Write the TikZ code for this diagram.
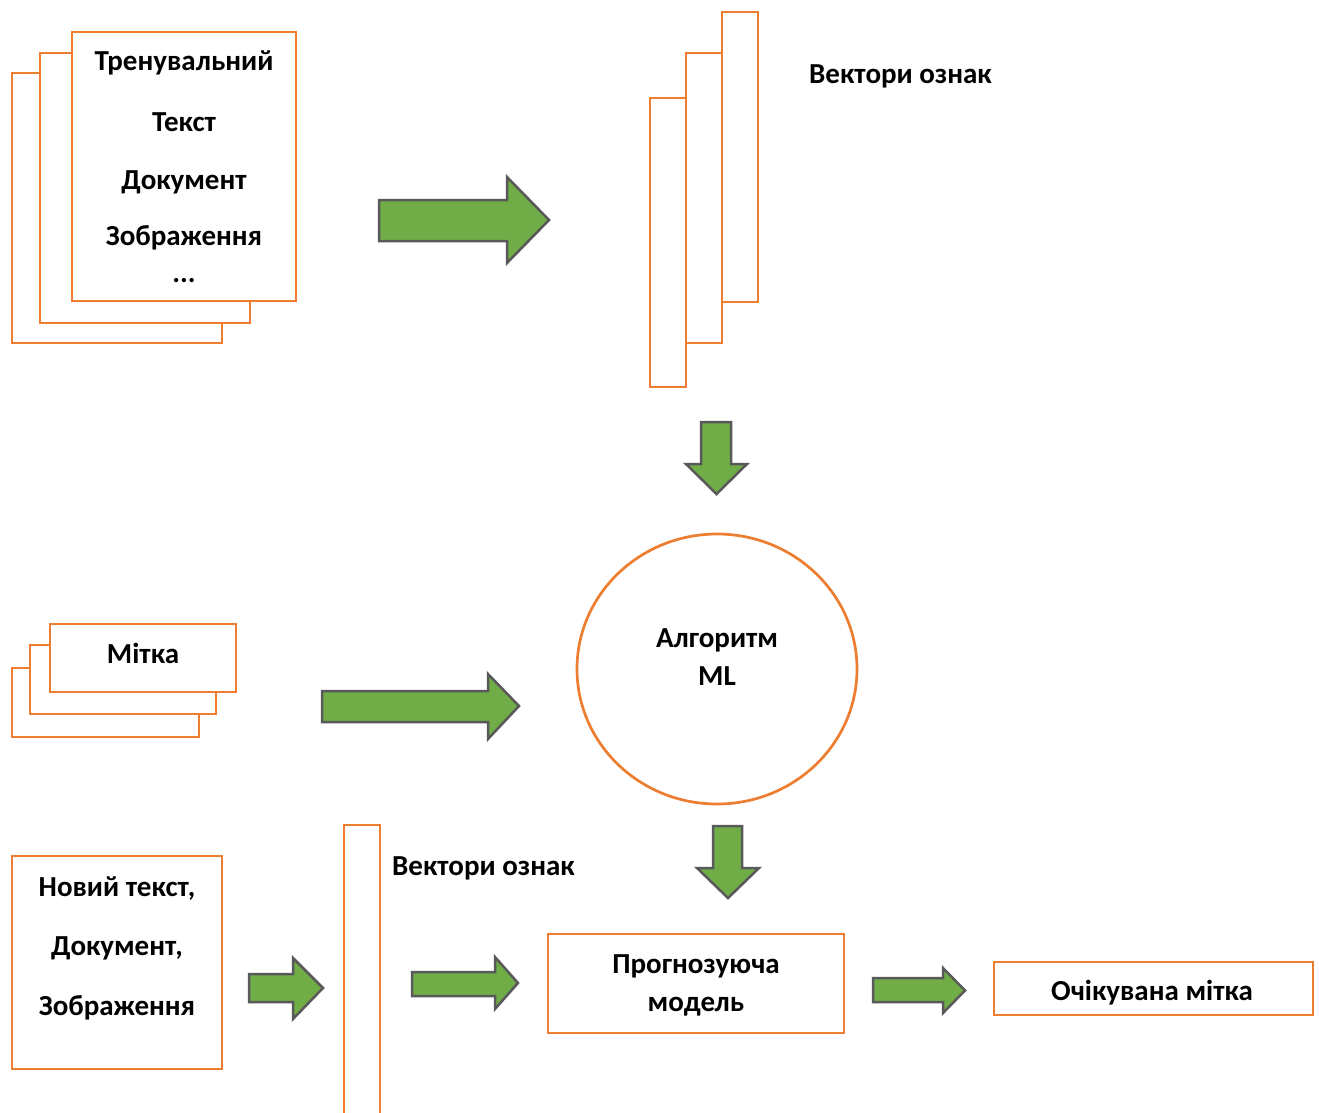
\documentclass[tikz,border=0pt]{standalone}
\usepackage{fontspec}
\setmainfont{Carlito}
\usetikzlibrary{shapes.geometric}
\definecolor{boxorange}{HTML}{ED7D31}
\definecolor{arrowgreen}{HTML}{70AD47}
\definecolor{arrowedge}{HTML}{595959}
\begin{document}
\begin{tikzpicture}[x=1pt,y=-1pt,
  every node/.style={font=\fontsize{29}{35}\selectfont\bfseries, inner sep=0pt},
  pagebox/.style={draw=boxorange, line width=2.7pt, fill=white, rectangle, inner sep=0pt},
  algo/.style={draw=boxorange, line width=2.7pt, fill=white, ellipse, inner sep=0pt},
  label/.style={anchor=base, text=black},
  sidelabel/.style={anchor=base west, text=black},
  blockarrow/.style={draw=arrowedge, fill=arrowgreen, line width=2.5pt, line join=miter}]
\useasboundingbox (0,0) rectangle (1319,1112);

% stack of training documents
\node[pagebox, minimum width=210, minimum height=270] (docC) at (117,208) {};
\node[pagebox, minimum width=210, minimum height=270] (docB) at (145,188) {};
\node[pagebox, minimum width=224, minimum height=269] (docA) at (184,166.5) {};
\node[label] (t1) at (184,70) {Тренувальний};
\node[label] (t2) at (184,131.5) {Текст};
\node[label] (t3) at (184,189.5) {Документ};
\node[label] (t4) at (184,245.5) {Зображення};
\node[label] (t5) at (184,282) {...};

% feature vectors of the training set
\node[pagebox, minimum width=36, minimum height=289] (vecA) at (668,242.5) {};
\node[pagebox, minimum width=36, minimum height=290] (vecB) at (704,198) {};
\node[pagebox, minimum width=36, minimum height=290] (vecC) at (740,157) {};
\node[sidelabel] (vlabel) at (809,83) {Вектори ознак};

% learning algorithm
\node[algo, minimum width=280, minimum height=270] (alg) at (717,669) {};
\node[label] (alg1) at (717,647) {Алгоритм};
\node[label] (alg2) at (717,685.5) {ML};

% stack of labels
\node[pagebox, minimum width=187, minimum height=69] (labC) at (105.5,702.5) {};
\node[pagebox, minimum width=186, minimum height=69] (labB) at (123,679.5) {};
\node[pagebox, minimum width=186, minimum height=68] (labA) at (143,658) {};
\node[label] (lab) at (143,663.5) {Мітка};

% new input
\node[pagebox, minimum width=210, minimum height=213] (newdoc) at (117,962.5) {};
\node[label] (n1) at (117,896) {Новий текст,};
\node[label] (n2) at (117,955) {Документ,};
\node[label] (n3) at (117,1015) {Зображення};

% feature vector of the new input
\node[pagebox, minimum width=36, minimum height=291] (vecN) at (362,970.5) {};
\node[sidelabel] (vlabel2) at (392,875) {Вектори ознак};

% predictive model and output
\node[pagebox, minimum width=296, minimum height=99] (model) at (696,983.5) {};
\node[label] (m1) at (696,973.5) {Прогнозуюча};
\node[label] (m2) at (696,1011) {модель};
\node[pagebox, minimum width=319, minimum height=53] (result) at (1153.5,988.5) {};
\node[label] (r1) at (1152,1000) {Очікувана мітка};

% block arrows
\draw[blockarrow] (379,200) -- (507,200) -- (507,177) -- (549,220) -- (507,263) -- (507,241) -- (379,241) -- cycle;
\draw[blockarrow] (701,422) -- (731,422) -- (731,464) -- (747,464) -- (716.5,494) -- (686,464) -- (701,464) -- cycle;
\draw[blockarrow] (322,691) -- (488,691) -- (488,674) -- (519,706) -- (488,739) -- (488,722) -- (322,722) -- cycle;
\draw[blockarrow] (713,826) -- (742,826) -- (742,868) -- (759,868) -- (728,898) -- (697,868) -- (713,868) -- cycle;
\draw[blockarrow] (249,974) -- (293,974) -- (293,958) -- (323,988) -- (293,1019) -- (293,1002) -- (249,1002) -- cycle;
\draw[blockarrow] (412,972) -- (495,972) -- (495,957) -- (518,983) -- (495,1009) -- (495,996) -- (412,996) -- cycle;
\draw[blockarrow] (873,978) -- (943,978) -- (943,968) -- (965,990.5) -- (943,1013) -- (943,1002) -- (873,1002) -- cycle;
\end{tikzpicture}
\end{document}
